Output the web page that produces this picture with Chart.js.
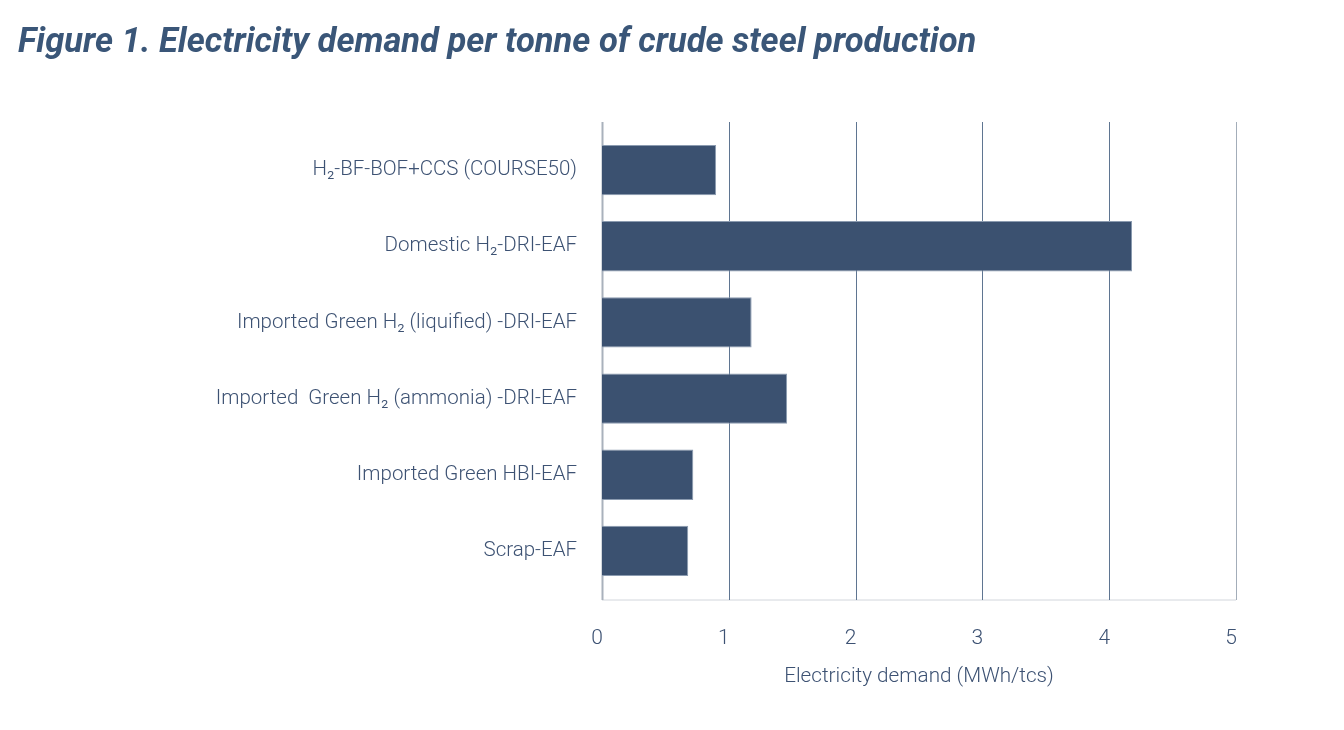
<!DOCTYPE html>
<html lang="en">
<head>
    <meta charset="UTF-8">
    <title>Electricity demand per tonne of crude steel production</title>
    <script src="https://cdn.jsdelivr.net/npm/chart.js"></script>
    <style>
        html, body { margin: 0; padding: 0; background: #fff; }
        #wrap { width: 1344px; height: 730px; }
    </style>
</head>
<body>
    <div id="wrap"><canvas id="steelChart"></canvas></div>

    <script>
        // Data
        const routes = [
            'H\u2082-BF-BOF+CCS (COURSE50)',
            'Domestic H\u2082-DRI-EAF',
            'Imported Green H\u2082 (liquified) -DRI-EAF',
            'Imported  Green H\u2082 (ammonia) -DRI-EAF',
            'Imported Green HBI-EAF',
            'Scrap-EAF'
        ];
        const demand = [0.9, 4.18, 1.18, 1.46, 0.72, 0.68];  // MWh per tonne crude steel
        const xTicks = [0, 1, 2, 3, 4, 5];

        const inkColor = '#3d5273';

        // grid is drawn a bit taller than the bar area, like the original
        const gridPlugin = {
            id: 'tallGrid',
            beforeDatasetsDraw(chart) {
                const ctx = chart.ctx;
                const area = chart.chartArea;
                const x = chart.scales.x;
                const top = area.top - 10;
                const bottom = area.bottom + 11;
                ctx.save();
                // bottom line
                ctx.strokeStyle = '#d2d6dc';
                ctx.lineWidth = 1;
                ctx.beginPath();
                ctx.moveTo(area.left, bottom);
                ctx.lineTo(area.right, bottom);
                ctx.stroke();
                xTicks.forEach(v => {
                    const px = Math.round(x.getPixelForValue(v)) + 0.5;
                    if (v === 0) {
                        ctx.strokeStyle = '#a9b1bc';
                        ctx.lineWidth = 2;
                    } else if (v === xTicks[xTicks.length - 1]) {
                        ctx.strokeStyle = '#a3adb9';
                        ctx.lineWidth = 1;
                    } else {
                        ctx.strokeStyle = '#5f7591';
                        ctx.lineWidth = 1;
                    }
                    ctx.beginPath();
                    ctx.moveTo(px, top);
                    ctx.lineTo(px, bottom);
                    ctx.stroke();
                });
                ctx.restore();
            }
        };

        const ctx = document.getElementById('steelChart').getContext('2d');
        const steelChart = new Chart(ctx, {
            type: 'bar',
            data: {
                labels: routes,
                datasets: [{
                    label: 'Electricity demand',
                    data: demand,
                    backgroundColor: '#3b5170',
                    borderColor: '#8b9bb0',
                    borderWidth: 1,
                    barPercentage: 0.66,
                    categoryPercentage: 1
                }]
            },
            options: {
                indexAxis: 'y',
                responsive: true,
                maintainAspectRatio: false,
                animation: false,
                layout: { padding: { left: 18, right: 108, top: 0, bottom: 0 } },
                plugins: {
                    legend: { display: false },
                    tooltip: { enabled: false },
                    title: {
                        display: true,
                        text: 'Figure 1. Electricity demand per tonne of crude steel production',
                        align: 'start',
                        color: '#3a5678',
                        font: { family: 'Roboto', size: 34.5, style: 'italic', weight: 'bold', lineHeight: 1.2 },
                        padding: { top: 23, bottom: 67.6 }
                    }
                },
                scales: {
                    x: {
                        type: 'linear',
                        min: 0,
                        max: 5,
                        grid: { display: false, drawTicks: false },
                        border: { display: false },
                        afterFit(scale) { scale.height = 141; },
                        afterBuildTicks(scale) { scale.ticks = xTicks.map(v => ({ value: v })); },
                        ticks: {
                            color: inkColor,
                            padding: 37,
                            labelOffset: -5,
                            font: { family: 'Roboto', size: 21, weight: 300 }
                        },
                        title: {
                            display: true,
                            text: 'Electricity demand (MWh/tcs)',
                            color: inkColor,
                            font: { family: 'Roboto', size: 20.7, weight: 300 },
                            padding: { top: 0, bottom: 41 }
                        }
                    },
                    y: {
                        grid: { display: false, drawTicks: false },
                        border: { display: false },
                        afterFit(scale) { scale.width = 584; },
                        ticks: {
                            color: inkColor,
                            padding: 25,
                            font: { family: 'Roboto', size: 20.5, weight: 300 }
                        }
                    }
                }
            },
            plugins: [gridPlugin]
        });
    </script>
</body>
</html>
